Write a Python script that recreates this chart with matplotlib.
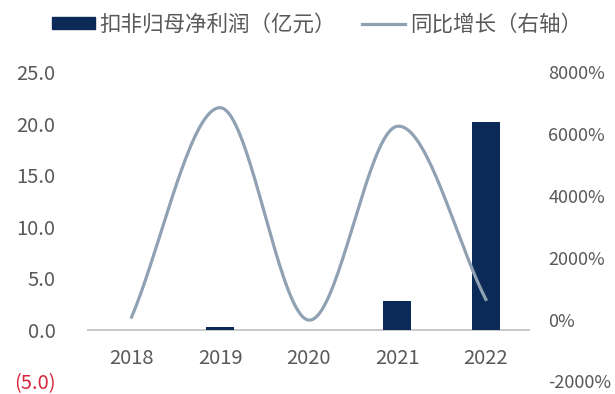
import numpy as np
import matplotlib.pyplot as plt

plt.rcParams['font.family'] = ['Noto Sans CJK SC', 'DejaVu Sans']

years = ['2018', '2019', '2020', '2021', '2022']
profit = [0.0, 0.3, 0.0, 2.8, 20.2]            # 扣非归母净利润（亿元）
growth = [80, 6850, -20, 6250, 650]            # 同比增长（%）

left_ticks = [-5, 0, 5, 10, 15, 20, 25]
left_labels = ['(5.0)', '0.0', '5.0', '10.0', '15.0', '20.0', '25.0']
right_ticks = [-2000, 0, 2000, 4000, 6000, 8000]
right_labels = ['-2000%', '0%', '2000%', '4000%', '6000%', '8000%']

navy = '#0B2A57'
line_c = '#8FA1B2'
grey = '#595959'


def smooth(x, y, n=40):
    # Catmull-Rom curve through the points, like Excel's smoothed line
    x = np.asarray(x, float)
    y = np.asarray(y, float)
    px = np.concatenate([[2 * x[0] - x[1]], x, [2 * x[-1] - x[-2]]])
    py = np.concatenate([[2 * y[0] - y[1]], y, [2 * y[-1] - y[-2]]])
    xs, ys = [], []
    t = np.linspace(0, 1, n)
    for i in range(1, len(px) - 2):
        for p, out in ((px, xs), (py, ys)):
            p0, p1, p2, p3 = p[i - 1], p[i], p[i + 1], p[i + 2]
            out.extend(0.5 * (2 * p1 + (-p0 + p2) * t
                              + (2 * p0 - 5 * p1 + 4 * p2 - p3) * t ** 2
                              + (-p0 + 3 * p1 - 3 * p2 + p3) * t ** 3))
    return np.array(xs), np.array(ys)


fig = plt.figure(figsize=(6.15, 3.94), dpi=100)
ax = fig.add_axes([0.142, 0.032, 0.72, 0.785])
ax2 = ax.twinx()

x = np.arange(len(years))
ax.bar(x, profit, width=0.32, color=navy, zorder=2)
ax.axhline(0, color='#BFBFBF', lw=1.2, zorder=1)

sx, sy = smooth(x, growth)
ax2.plot(sx, sy, color=line_c, lw=2.3)

ax.set_xlim(-0.5, 4.5)
ax.set_ylim(-5, 25)
ax2.set_ylim(-2000, 8000)

ax.set_yticks(left_ticks)
ax.set_yticklabels(left_labels)
ax2.set_yticks(right_ticks)
ax2.set_yticklabels(right_labels)
ax.set_xticks(x)
ax.set_xticklabels(years)

for a in (ax, ax2):
    for s in a.spines.values():
        s.set_visible(False)
    a.tick_params(length=0, colors=grey)
ax.tick_params(axis='y', labelsize=14.5, pad=23)
ax2.tick_params(axis='y', labelsize=13, pad=13)
ax.tick_params(axis='x', labelsize=14.5, pad=-24)
ax.get_yticklabels()[0].set_color('#D7263D')

handles = [plt.Rectangle((0, 0), 1, 1, color=navy),
           plt.Line2D([], [], color=line_c, lw=2.3)]
fig.legend(handles, ['扣非归母净利润（亿元）', '同比增长（右轴）'],
           loc='upper center', bbox_to_anchor=(0.515, 1.015), ncol=2,
           frameon=False, fontsize=15.5, handlelength=2.0, handleheight=0.5,
           columnspacing=1.2, handletextpad=0.22, labelcolor=grey)

fig.savefig('out.png')
